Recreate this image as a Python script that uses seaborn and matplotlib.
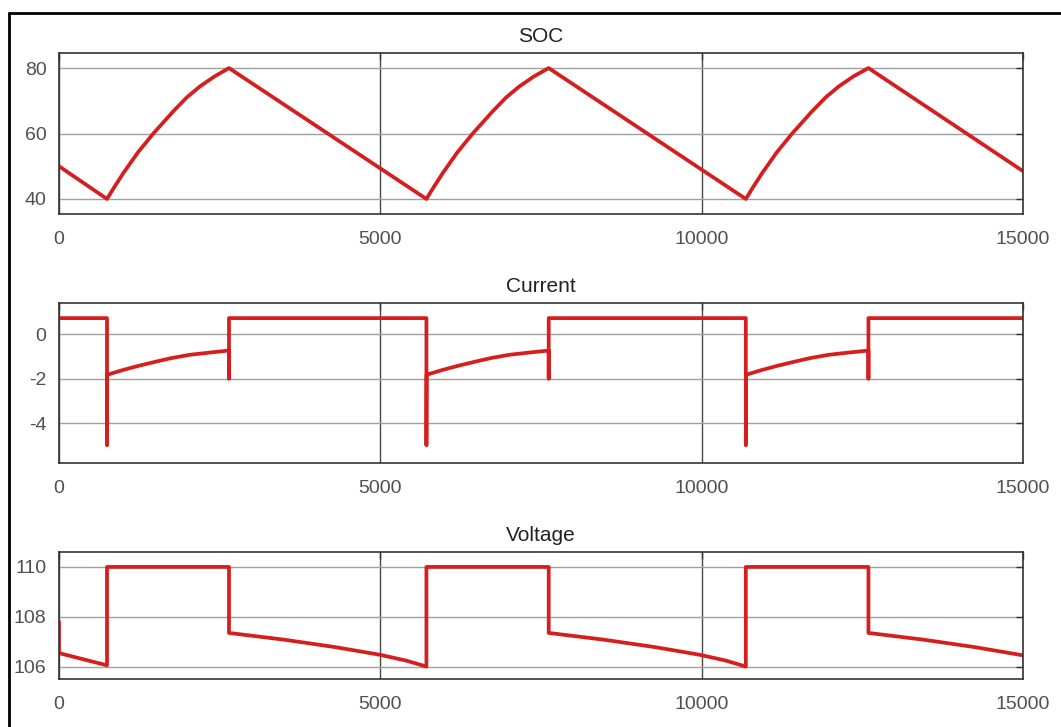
import numpy as np
import pandas as pd
import matplotlib
matplotlib.use('Agg')
import matplotlib.pyplot as plt
from matplotlib.lines import Line2D
import seaborn as sns

# State of charge (%)
SOC_T = [0, 747, 847, 1001, 1227, 1468, 1779, 1987, 2194, 2417, 2645,
         5717, 5817, 5971, 6197, 6438, 6749, 6957, 7164, 7387, 7620,
         10687, 10787, 10941, 11167, 11408, 11719, 11927, 12134, 12357, 12595,
         15000]
SOC_V = [50, 40, 43.2, 47.9, 54.2, 60, 66.8, 71.0, 74.4, 77.4, 80,
         40, 43.2, 47.9, 54.2, 60, 66.8, 71.0, 74.4, 77.4, 80,
         40, 43.2, 47.9, 54.2, 60, 66.8, 71.0, 74.4, 77.4, 80,
         48.5]

# Current (A)
CUR_T = [0, 747, 747, 750, 1001, 1247, 1520, 1747, 2038, 2347, 2645, 2645, 2645,
         5717, 5717, 5720, 5971, 6217, 6490, 6717, 7008, 7317, 7620, 7620, 7620,
         10687, 10687, 10690, 10941, 11187, 11460, 11687, 11978, 12287, 12595, 12595, 12595,
         15000]
CUR_V = [0.72, 0.72, -5, -1.83, -1.61, -1.42, -1.23, -1.08, -0.93, -0.83, -0.74, -2, 0.72,
         0.72, -5, -1.83, -1.61, -1.42, -1.23, -1.08, -0.93, -0.83, -0.74, -2, 0.72,
         0.72, -5, -1.83, -1.61, -1.42, -1.23, -1.08, -0.93, -0.83, -0.74, -2, 0.72,
         0.72]

# Voltage (V)
VOL_T = [0, 0, 747, 747, 2645, 2645, 3500, 4300, 5000, 5400, 5717,
         5717, 7620, 7620, 8475, 9275, 9975, 10375, 10687,
         10687, 12595, 12595, 13450, 14250, 15000]
VOL_V = [107.8, 106.54, 106.05, 110, 110, 107.35, 107.08, 106.78, 106.47, 106.24, 106.0,
         110, 110, 107.35, 107.08, 106.78, 106.47, 106.24, 106.0,
         110, 110, 107.35, 107.08, 106.78, 106.45]

PANELS = [
    ('SOC', SOC_T, SOC_V, [40, 60, 80], (35.4, 84.6)),
    ('Current', CUR_T, CUR_V, [-4, -2, 0], (-5.8, 1.4)),
    ('Voltage', VOL_T, VOL_V, [106, 108, 110], (105.5, 110.6)),
]
XTICKS = [0, 5000, 10000, 15000]

sns.set_theme(style="white")
plt.rcParams['font.family'] = ['Liberation Sans', 'DejaVu Sans']
plt.rcParams['axes.unicode_minus'] = False

W, H = 1061, 727
fig = plt.figure(figsize=(W / 100, H / 100), dpi=100)

# axes boxes in pixels: left, top, right, bottom
boxes = [(59, 53, 1023, 214), (59, 303, 1023, 463), (59, 552, 1023, 679)]
LINE_RED = '#d71e1e'

for (title, t, v, yticks, ylim), (l, tp, r, b) in zip(PANELS, boxes):
    ax = fig.add_axes([l / W, 1 - b / H, (r - l) / W, (b - tp) / H])
    df = pd.DataFrame({'t': t, 'v': v})
    sns.lineplot(data=df, x='t', y='v', ax=ax, sort=False, estimator=None,
                 color=LINE_RED, linewidth=2.7)
    ax.set_xlim(0, 15000)
    ax.set_ylim(*ylim)
    ax.set_xticks(XTICKS)
    ax.set_yticks(yticks)
    ax.set_xlabel('')
    ax.set_ylabel('')
    ax.set_title(title, fontsize=15, color='#222222', pad=8)
    ax.grid(axis='y', color='#a0a0a0', linewidth=1.0)
    ax.grid(axis='x', color='#484848', linewidth=1.0)
    ax.tick_params(axis='both', direction='in', length=5, width=1,
                   colors='#333333', labelcolor='#505050', labelsize=14,
                   top=True, right=True)
    ax.tick_params(axis='x', pad=12)
    ax.tick_params(axis='y', pad=9)
    for s in ax.spines.values():
        s.set_color('#333333')
        s.set_linewidth(1.2)

# outer frame of the screenshot (top and left edges)
fig.add_artist(Line2D([8.5 / W, 1.0], [1 - 12.5 / H, 1 - 12.5 / H],
                      transform=fig.transFigure, color='black', linewidth=2))
fig.add_artist(Line2D([8.5 / W, 8.5 / W], [0, 1 - 12.5 / H],
                      transform=fig.transFigure, color='black', linewidth=2))

fig.savefig('out.png', dpi=100, facecolor='white')
